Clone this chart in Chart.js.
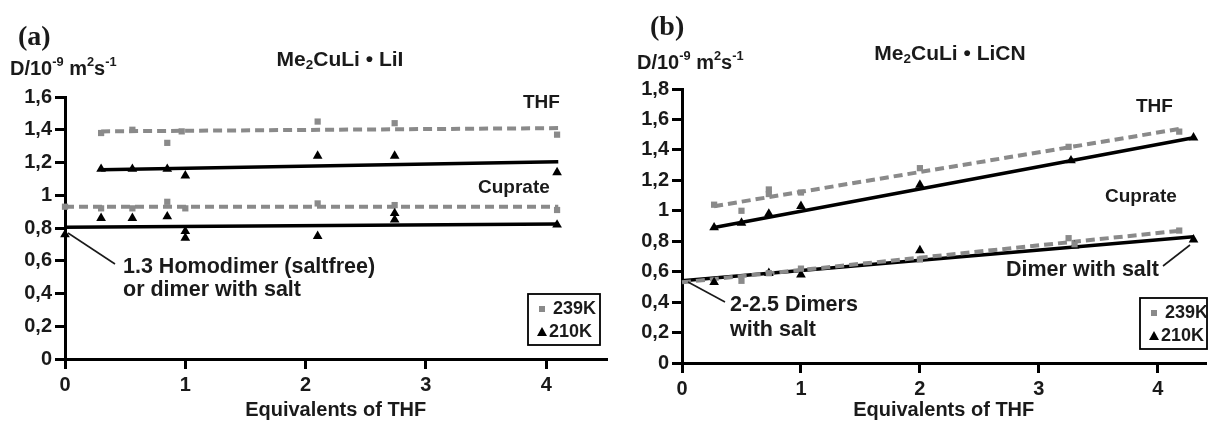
<!DOCTYPE html>
<html>
<head>
<meta charset="utf-8">
<script src="https://cdn.jsdelivr.net/npm/chart.js@4.4.0/dist/chart.umd.min.js"></script>
<style>
  body { margin: 0; background: #fff; width: 1211px; height: 422px; overflow: hidden; position: relative; }
  #chartA { position: absolute; left: 0; top: 0; }
  #chartB { position: absolute; left: 612px; top: 0; }
</style>
</head>
<body>
<canvas id="chartA" width="612" height="422"></canvas>
<canvas id="chartB" width="599" height="422"></canvas>
<script>
// tick values
const xTicks = [0, 1, 2, 3, 4];
const yTicksA = [0, 0.2, 0.4, 0.6, 0.8, 1, 1.2, 1.4, 1.6];
const yTicksB = [0, 0.2, 0.4, 0.6, 0.8, 1, 1.2, 1.4, 1.6, 1.8];

// (a) Me2CuLi . LiI  -- measured points
const thf239A_x = [0.3, 0.56, 0.85, 0.97, 2.1, 2.74, 4.09];
const thf239A_y = [1.38, 1.40, 1.32, 1.39, 1.45, 1.44, 1.37];
const thf210A_x = [0.3, 0.56, 0.85, 1.0, 2.1, 2.74, 4.09];
const thf210A_y = [1.16, 1.16, 1.16, 1.12, 1.24, 1.24, 1.14];
const cup239A_x = [0, 0.3, 0.56, 0.85, 1.0, 2.1, 2.74, 4.09];
const cup239A_y = [0.93, 0.92, 0.92, 0.96, 0.92, 0.95, 0.94, 0.91];
const cup210A_x = [0, 0.3, 0.56, 0.85, 1.0, 1.0, 2.1, 2.74, 2.74, 4.09];
const cup210A_y = [0.76, 0.86, 0.86, 0.87, 0.78, 0.74, 0.75, 0.89, 0.85, 0.82];
// (a) fitted lines (end points)
const fitThf239A_x = [0.3, 4.1],  fitThf239A_y = [1.39, 1.41];
const fitThf210A_x = [0.3, 4.1],  fitThf210A_y = [1.155, 1.205];
const fitCup239A_x = [0, 4.1],    fitCup239A_y = [0.93, 0.93];
const fitCup210A_x = [0, 4.1],    fitCup210A_y = [0.805, 0.825];

// (b) Me2CuLi . LiCN -- measured points
const thf239B_x = [0.27, 0.5, 0.73, 0.73, 1.0, 2.0, 3.25, 4.18];
const thf239B_y = [1.04, 1.0, 1.14, 1.11, 1.12, 1.28, 1.42, 1.52];
const thf210B_x = [0.27, 0.5, 0.73, 1.0, 2.0, 3.27, 4.3];
const thf210B_y = [0.89, 0.92, 0.98, 1.03, 1.17, 1.33, 1.48];
const cup239B_x = [0.5, 0.73, 1.0, 2.0, 3.25, 3.3, 4.18];
const cup239B_y = [0.54, 0.59, 0.62, 0.68, 0.82, 0.78, 0.87];
const cup210B_x = [0.27, 0.73, 1.0, 2.0, 3.3, 4.3];
const cup210B_y = [0.53, 0.59, 0.58, 0.74, 0.77, 0.81];
// (b) fitted lines
const fitThf239B_x = [0.27, 4.2], fitThf239B_y = [1.03, 1.54];
const fitThf210B_x = [0.27, 4.3], fitThf210B_y = [0.89, 1.48];
const fitCup239B_x = [0, 4.2],    fitCup239B_y = [0.53, 0.87];
const fitCup210B_x = [0, 4.3],    fitCup210B_y = [0.54, 0.83];

const GRAY = '#8a8a8a';
const INK = '#1a1a1a';
const SANS = '"Liberation Sans", Arial, sans-serif';

const pts = (xs, ys) => xs.map((x, i) => ({ x: x, y: ys[i] }));

function squares(xs, ys) {
    return { data: pts(xs, ys), pointStyle: 'rect', pointRadius: 4.4, backgroundColor: GRAY,
        borderColor: GRAY, borderWidth: 0, showLine: false, clip: false };
}
function triangles(xs, ys) {
    return { data: pts(xs, ys), pointStyle: 'triangle', pointRadius: 5.6, backgroundColor: '#000',
        borderColor: '#000', borderWidth: 0, showLine: false, clip: false };
}
function dashed(xs, ys) {
    return { data: pts(xs, ys), showLine: true, pointRadius: 0, borderColor: GRAY,
        borderWidth: 4, borderDash: [9, 5], clip: false };
}
function solid(xs, ys) {
    return { data: pts(xs, ys), showLine: true, pointRadius: 0, borderColor: '#000',
        borderWidth: 3.5, clip: false };
}

// draw a run of text pieces, some raised / lowered
function richText(ctx, parts, x, y, size, align) {
    const widths = parts.map(p => {
        ctx.font = 'bold ' + (p.s ? size * 0.64 : size) + 'px ' + SANS;
        return ctx.measureText(p.t).width;
    });
    let cx = align === 'center' ? x - widths.reduce((a, b) => a + b, 0) / 2 : x;
    parts.forEach((p, i) => {
        ctx.font = 'bold ' + (p.s ? size * 0.64 : size) + 'px ' + SANS;
        ctx.fillText(p.t, cx, y + (p.s || 0));
        cx += widths[i];
    });
}

const decor = {
    id: 'decor',
    afterDraw(chart, args, o) {
        const ctx = chart.ctx;
        ctx.save();
        ctx.fillStyle = INK;
        ctx.strokeStyle = INK;
        ctx.textBaseline = 'middle';
        ctx.textAlign = 'left';

        ctx.font = 'bold 28px "Liberation Serif", "DejaVu Serif", serif';
        ctx.fillText(o.letter, o.letterPos[0], o.letterPos[1]);

        richText(ctx, [{ t: 'D/10' }, { t: '-9', s: -7 }, { t: ' m' }, { t: '2', s: -7 }, { t: 's' }, { t: '-1', s: -7 }],
            o.yLabelPos[0], o.yLabelPos[1], 20, 'left');

        richText(ctx, [{ t: 'Me' }, { t: '2', s: 5 }, { t: 'CuLi \u2022 ' + o.salt }],
            o.titlePos[0], o.titlePos[1], 21, 'center');

        ctx.font = 'bold 19px ' + SANS;
        o.labels.forEach(l => ctx.fillText(l.t, l.x, l.y));

        ctx.font = 'bold 21.5px ' + SANS;
        o.notes.forEach(l => ctx.fillText(l.t, l.x, l.y));
        ctx.lineWidth = 1.6;
        o.leaders.forEach(l => {
            ctx.beginPath();
            ctx.moveTo(l[0], l[1]);
            ctx.lineTo(l[2], l[3]);
            ctx.stroke();
        });

        // legend box
        const b = o.legend;
        ctx.lineWidth = 1.8;
        ctx.strokeStyle = '#000';
        ctx.strokeRect(b.x, b.y, b.w, b.h);
        ctx.font = 'bold 18px ' + SANS;
        ctx.fillStyle = GRAY;
        ctx.fillRect(b.x + 11, b.y + 12, 6, 6);
        ctx.fillStyle = INK;
        ctx.fillText('239K', b.x + 25, b.y + 15);
        ctx.fillStyle = '#000';
        ctx.beginPath();
        ctx.moveTo(b.x + 14, b.y + 33);
        ctx.lineTo(b.x + 19, b.y + 42);
        ctx.lineTo(b.x + 9, b.y + 42);
        ctx.closePath();
        ctx.fill();
        ctx.fillStyle = INK;
        ctx.fillText('210K', b.x + 21, b.y + 38);
        ctx.restore();
    }
};

function makeScales(yTicks, yMax, xMax, yWidth, xHeight) {
    const tickGrid = { display: true, drawOnChartArea: false, drawTicks: true, tickLength: 10,
        tickWidth: 3, lineWidth: 3, color: '#000', tickColor: '#000' };
    return {
        x: {
            type: 'linear', min: 0, max: xMax,
            afterBuildTicks: s => { s.ticks = xTicks.map(v => ({ value: v })); },
            afterFit: s => { s.height = xHeight; },
            grid: tickGrid,
            border: { display: true, width: 3, color: '#000' },
            ticks: { color: INK, font: { family: SANS, size: 20, weight: 'bold' }, padding: 4,
                maxRotation: 0, callback: v => String(v) },
            title: { display: true, text: 'Equivalents of THF', color: INK,
                font: { family: SANS, size: 20, weight: 'bold' }, padding: { top: 0, bottom: 0 } }
        },
        y: {
            type: 'linear', min: 0, max: yMax,
            afterBuildTicks: s => { s.ticks = yTicks.map(v => ({ value: v })); },
            afterFit: s => { s.width = yWidth; },
            grid: tickGrid,
            border: { display: true, width: 3, color: '#000' },
            ticks: { color: INK, font: { family: SANS, size: 20, weight: 'bold' }, padding: 3,
                callback: v => String(Math.round(v * 10) / 10).replace('.', ',') }
        }
    };
}

Chart.defaults.font.family = SANS;

new Chart(document.getElementById('chartA').getContext('2d'), {
    type: 'scatter',
    data: {
        datasets: [
            squares(thf239A_x, thf239A_y), triangles(thf210A_x, thf210A_y),
            squares(cup239A_x, cup239A_y), triangles(cup210A_x, cup210A_y),
            dashed(fitThf239A_x, fitThf239A_y), solid(fitThf210A_x, fitThf210A_y),
            dashed(fitCup239A_x, fitCup239A_y), solid(fitCup210A_x, fitCup210A_y)
        ]
    },
    options: {
        responsive: false,
        animation: false,
        devicePixelRatio: 1,
        layout: { padding: { top: 97, right: 1, left: 0, bottom: 0 } },
        scales: makeScales(yTicksA, 1.6, 4.5, 65, 63),
        plugins: {
            legend: { display: false },
            tooltip: { enabled: false },
            decor: {
                letter: '(a)', letterPos: [18, 38],
                yLabelPos: [10, 69],
                titlePos: [340, 60], salt: 'LiI',
                labels: [{ t: 'THF', x: 523, y: 103 }, { t: 'Cuprate', x: 478, y: 188 }],
                notes: [{ t: '1.3 Homodimer (saltfree)', x: 123, y: 267 }, { t: 'or dimer with salt', x: 123, y: 290 }],
                leaders: [[68, 233, 115, 264]],
                legend: { x: 528, y: 294, w: 72, h: 51 }
            }
        }
    },
    plugins: [decor]
});

new Chart(document.getElementById('chartB').getContext('2d'), {
    type: 'scatter',
    data: {
        datasets: [
            squares(thf239B_x, thf239B_y), triangles(thf210B_x, thf210B_y),
            squares(cup239B_x, cup239B_y), triangles(cup210B_x, cup210B_y),
            dashed(fitThf239B_x, fitThf239B_y), solid(fitThf210B_x, fitThf210B_y),
            dashed(fitCup239B_x, fitCup239B_y), solid(fitCup210B_x, fitCup210B_y)
        ]
    },
    options: {
        responsive: false,
        animation: false,
        devicePixelRatio: 1,
        layout: { padding: { top: 89, right: 0, left: 0, bottom: 0 } },
        scales: makeScales(yTicksB, 1.8, 4.4, 70, 59),
        plugins: {
            legend: { display: false },
            tooltip: { enabled: false },
            decor: {
                letter: '(b)', letterPos: [38, 28],
                yLabelPos: [25, 63],
                titlePos: [338, 54], salt: 'LiCN',
                labels: [{ t: 'THF', x: 524, y: 107 }, { t: 'Cuprate', x: 493, y: 197 }],
                notes: [{ t: '2-2.5 Dimers', x: 118, y: 305 }, { t: 'with salt', x: 118, y: 330 },
                        { t: 'Dimer with salt', x: 394, y: 270 }],
                leaders: [[76, 282, 113, 302], [551, 266, 578, 245]],
                legend: { x: 528, y: 298, w: 67, h: 51 }
            }
        }
    },
    plugins: [decor]
});
</script>
</body>
</html>
